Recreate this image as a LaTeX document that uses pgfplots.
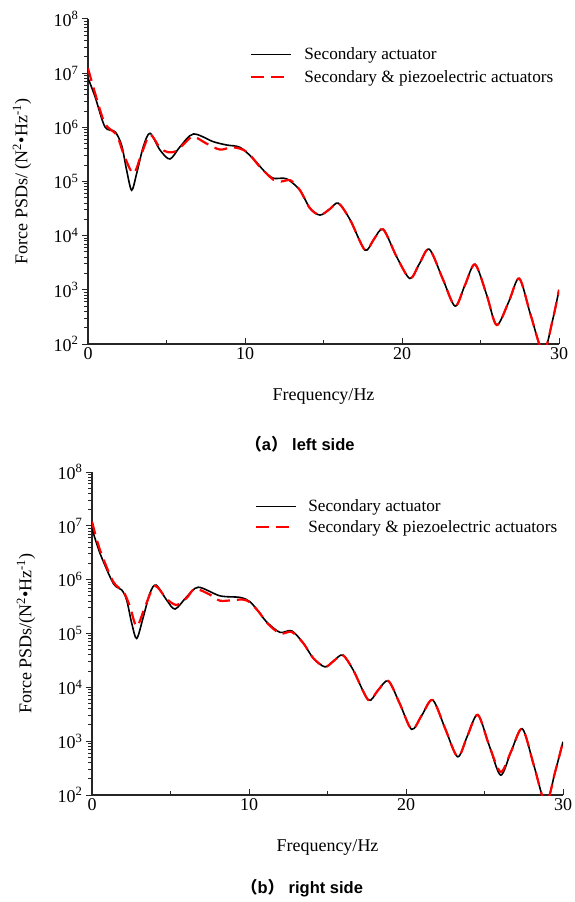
\documentclass[border=0pt]{standalone}
\usepackage{fontspec}
\setmainfont{Liberation Serif}
\newfontfamily\capfont{Liberation Sans}
\newfontfamily\cjk{Noto Sans CJK SC}
\usepackage{pgfplots}
\pgfplotsset{compat=1.18}

\begin{document}
\begin{tikzpicture}
\useasboundingbox (0,0) rectangle (575pt,-902pt);

% ---------------- top: left side ----------------
\begin{axis}[scale only axis, width=471pt, height=325pt, at={(88pt,-344pt)}, anchor=south west,
    ymode=log, xmin=0, xmax=30, ymin=1e2, ymax=1e8,
    axis x line*=bottom, axis y line*=left,
    axis line style={-, line width=1.2pt, black!85},
    xtick={0,10,20,30}, xticklabels={0,10,20,30},
    minor xtick={5,15,25},
    ytick={1e2,1e3,1e4,1e5,1e6,1e7,1e8},
    yticklabels={10\textsuperscript{2},10\textsuperscript{3},10\textsuperscript{4},10\textsuperscript{5},10\textsuperscript{6},10\textsuperscript{7},10\textsuperscript{8}},
    minor ytick={2e2,3e2,4e2,5e2,6e2,7e2,8e2,9e2,
                 2e3,3e3,4e3,5e3,6e3,7e3,8e3,9e3,
                 2e4,3e4,4e4,5e4,6e4,7e4,8e4,9e4,
                 2e5,3e5,4e5,5e5,6e5,7e5,8e5,9e5,
                 2e6,3e6,4e6,5e6,6e6,7e6,8e6,9e6,
                 2e7,3e7,4e7,5e7,6e7,7e7,8e7,9e7},
    xtick align=inside, ytick align=outside,
    major tick length=6pt, minor tick length=4pt,
    tick style={line width=1pt, black!85},
    ticklabel style={font=\fontsize{18}{20}\selectfont},
    label style={font=\fontsize{18}{20}\selectfont},
    xlabel={Frequency/Hz},
    xlabel style={at={(axis description cs:0.5,-0.163)}, anchor=center},
    ylabel={Force PSDs/ (N\textsuperscript{2}•Hz\textsuperscript{-1})},
    ylabel style={at={(axis description cs:-0.14,0.5)}, anchor=center},
    legend cell align=left,
    legend image code/.code={\draw[#1] (0pt,0pt) -- (40pt,0pt);},
    legend style={draw=none, fill=none, anchor=north west, inner sep=0pt,
      font=\fontsize{17.2}{19}\selectfont, column sep=10pt, row sep=5pt,
      at={(axis description cs:0.344,0.918)}},
  ]
\addplot[black, line width=1.6pt, smooth] coordinates {
(0,8.13e6) (0.45,3.67e6) (1.08,1.02e6) (1.72,8.3e5) (2.14,4.68e5) (2.46,1.62e5)
(2.78,6.9e4) (3.1,1.41e5) (3.52,4.37e5) (3.95,7.76e5) (4.59,3.8e5) (5.22,2.6e5)
(5.86,4.37e5) (6.71,7.53e5) (7.98,5.43e5) (8.83,4.72e5) (9.68,4.27e5) (10.5,2.69e5)
(11.2,1.58e5) (11.8,1.15e5) (12.65,1.12e5) (13.5,6.9e4) (14.14,3.2e4) (14.78,2.4e4)
(15.4,3.1e4) (15.95,3.98e4) (16.7,1.95e4) (17.64,5.43e3) (18.2,8.5e3) (18.8,1.31e4)
(19.66,4.07e3) (20.5,1.62e3) (21.1,3.0e3) (21.74,5.62e3) (22.6,1.58e3) (23.38,501)
(24.0,1.2e3) (24.65,2.95e3) (25.4,794) (26.03,224) (26.8,603) (27.47,1.62e3)
(28.2,339) (29.0,70.8) (29.6,282) (30.0,1000)
};
\addlegendentry{Secondary actuator}
\addplot[red, line width=2.2pt, smooth, dash pattern=on 13pt off 7pt] coordinates {
(0,1.23e7) (0.45,4.27e6) (1.08,1.17e6) (1.83,7.24e5) (2.25,3.31e5) (2.89,1.41e5)
(3.42,3.31e5) (3.95,7.24e5) (4.59,4.17e5) (5.1,3.47e5) (5.6,3.63e5) (6.2,5.25e5)
(6.71,6.76e5) (7.55,5.01e5) (8.4,3.89e5) (9.25,4.27e5) (10.1,3.55e5) (10.95,1.86e5)
(11.8,1.08e5) (12.3,1.0e5) (12.9,1.05e5) (13.5,6.9e4) (14.14,3.2e4) (14.78,2.4e4)
(15.4,3.1e4) (15.95,3.98e4) (16.7,1.95e4) (17.64,5.43e3) (18.2,8.5e3) (18.8,1.31e4)
(19.66,4.07e3) (20.5,1.62e3) (21.1,3.0e3) (21.74,5.62e3) (22.6,1.58e3) (23.38,501)
(24.0,1.2e3) (24.65,2.95e3) (25.4,794) (26.03,224) (26.8,603) (27.47,1.62e3)
(28.2,339) (29.0,70.8) (29.6,282) (30.0,1000)
};
\addlegendentry{Secondary \& piezoelectric actuators}
\end{axis}

% ---------------- bottom: right side ----------------
\begin{axis}[scale only axis, width=471pt, height=323pt, at={(92pt,-795pt)}, anchor=south west,
    ymode=log, xmin=0, xmax=30, ymin=1e2, ymax=1e8,
    axis x line*=bottom, axis y line*=left,
    axis line style={-, line width=1.2pt, black!85},
    xtick={0,10,20,30}, xticklabels={0,10,20,30},
    minor xtick={5,15,25},
    ytick={1e2,1e3,1e4,1e5,1e6,1e7,1e8},
    yticklabels={10\textsuperscript{2},10\textsuperscript{3},10\textsuperscript{4},10\textsuperscript{5},10\textsuperscript{6},10\textsuperscript{7},10\textsuperscript{8}},
    minor ytick={2e2,3e2,4e2,5e2,6e2,7e2,8e2,9e2,
                 2e3,3e3,4e3,5e3,6e3,7e3,8e3,9e3,
                 2e4,3e4,4e4,5e4,6e4,7e4,8e4,9e4,
                 2e5,3e5,4e5,5e5,6e5,7e5,8e5,9e5,
                 2e6,3e6,4e6,5e6,6e6,7e6,8e6,9e6,
                 2e7,3e7,4e7,5e7,6e7,7e7,8e7,9e7},
    xtick align=inside, ytick align=outside,
    major tick length=6pt, minor tick length=4pt,
    tick style={line width=1pt, black!85},
    ticklabel style={font=\fontsize{18}{20}\selectfont},
    label style={font=\fontsize{18}{20}\selectfont},
    xlabel={Frequency/Hz},
    xlabel style={at={(axis description cs:0.5,-0.163)}, anchor=center},
    ylabel={Force PSDs/(N\textsuperscript{2}•Hz\textsuperscript{-1})},
    ylabel style={at={(axis description cs:-0.14,0.5)}, anchor=center},
    legend cell align=left,
    legend image code/.code={\draw[#1] (0pt,0pt) -- (40pt,0pt);},
    legend style={draw=none, fill=none, anchor=north west, inner sep=0pt,
      font=\fontsize{17.2}{19}\selectfont, column sep=9pt, row sep=3pt,
      at={(axis description cs:0.346,0.921)}},
  ]
\addplot[black, line width=1.6pt, smooth] coordinates {
(0,8.9e6) (0.51,3.09e6) (1.36,8.5e5) (1.89,6.46e5) (2.21,4.17e5) (2.53,1.55e5)
(2.85,8.1e4) (3.27,2.04e5) (3.69,5.62e5) (4.08,7.94e5) (4.76,4.17e5) (5.29,2.85e5)
(6.03,4.79e5) (6.77,7.24e5) (8.15,5.01e5) (9.43,4.68e5) (10.06,3.89e5) (10.7,2.37e5)
(11.1,1.66e5) (11.97,1.05e5) (12.72,1.12e5) (13.46,6.61e4) (14.1,3.47e4) (14.84,2.4e4)
(15.4,3.1e4) (15.97,3.98e4) (16.64,2.09e4) (17.6,5.82e3) (18.2,8.7e3) (18.87,1.32e4)
(19.6,5.01e3) (20.36,1.66e3) (21.0,3.0e3) (21.7,5.82e3) (22.5,1.7e3) (23.29,513)
(23.9,1.23e3) (24.57,3.09e3) (25.3,830) (26.03,234) (26.7,650) (27.41,1.7e3)
(28.15,350) (28.9,70) (29.5,270) (30,977)
};
\addlegendentry{Secondary actuator}
\addplot[red, line width=2.2pt, smooth, dash pattern=on 13pt off 7pt] coordinates {
(0,1.2e7) (0.51,3.55e6) (1.36,9.1e5) (2.0,6.03e5) (2.42,3.16e5) (2.85,1.35e5)
(3.38,3.16e5) (4.0,7.59e5) (4.76,4.37e5) (5.39,3.39e5) (6.03,4.57e5) (6.56,6.76e5)
(7.52,5.25e5) (8.15,4.07e5) (9.0,4.17e5) (9.6,4.27e5) (10.06,3.8e5) (10.7,2.37e5)
(11.1,1.62e5) (11.97,1.0e5) (12.72,1.07e5) (13.46,6.61e4) (14.1,3.47e4) (14.84,2.4e4)
(15.4,3.1e4) (15.97,3.98e4) (16.64,2.09e4) (17.6,5.82e3) (18.2,8.7e3) (18.87,1.32e4)
(19.6,5.01e3) (20.36,1.66e3) (21.0,3.0e3) (21.7,5.82e3) (22.5,1.7e3) (23.29,513)
(23.9,1.23e3) (24.57,3.09e3) (25.3,830) (26.03,269) (26.7,650) (27.41,1.7e3)
(28.15,350) (28.9,70) (29.5,270) (30,977)
};
\addlegendentry{Secondary \& piezoelectric actuators}
\end{axis}

\node[font=\capfont\bfseries\fontsize{16.5}{19}\selectfont] at (300pt,-444pt)
  {{\cjk （}a{\cjk ）} left side};
\node[font=\capfont\bfseries\fontsize{16.5}{19}\selectfont] at (302pt,-888pt)
  {{\cjk （}b{\cjk ）} right side};
\end{tikzpicture}
\end{document}
